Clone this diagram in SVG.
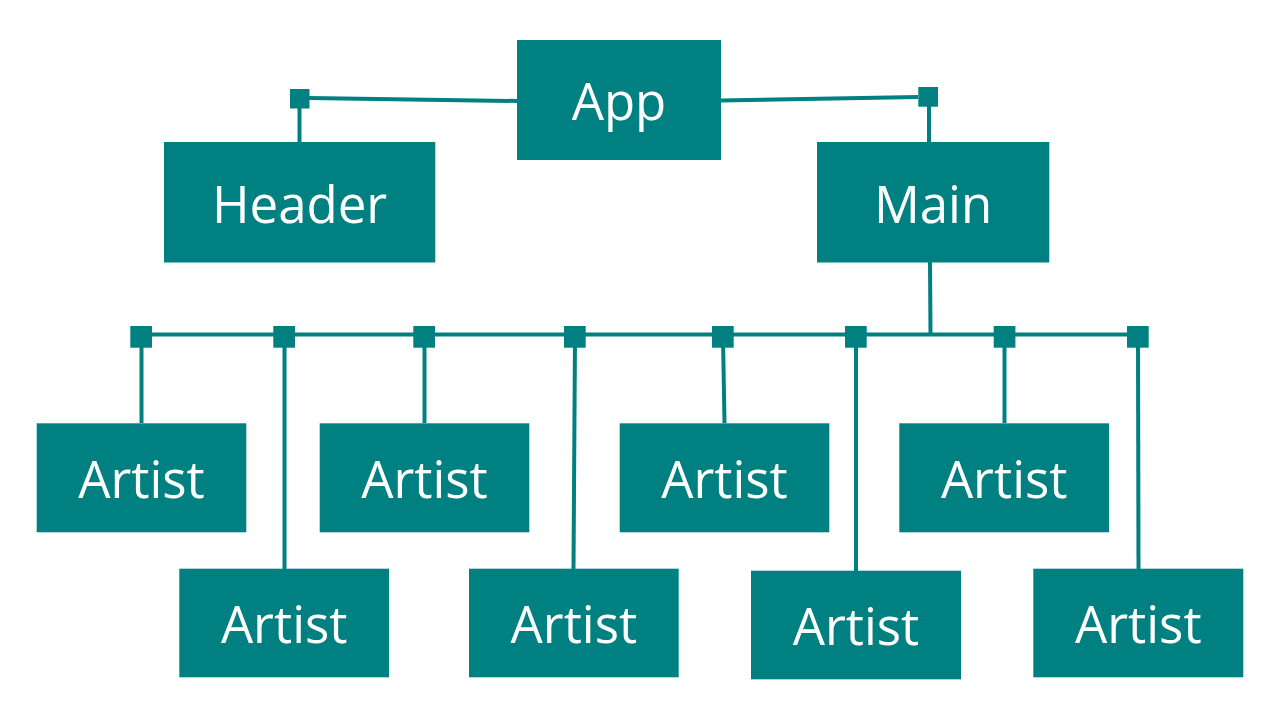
<svg xmlns="http://www.w3.org/2000/svg" width="1280" height="720" viewBox="0 0 1280 720">
<style>
.box{fill:#008080}
.lbl{fill:#ffffff;font-family:"Open Sans","Noto Sans","DejaVu Sans",sans-serif;font-size:51px;text-anchor:middle}
.ln{stroke:#008080;stroke-width:4;fill:none}
.j{fill:#008080}
</style>
<rect width="1280" height="720" fill="#ffffff"/>
<g id="connectors">
<path class="ln" d="M309 98 L517 101"/>
<path class="ln" d="M720 100.5 L918 97"/>
<path class="ln" d="M299.5 108 L299.5 142"/>
<path class="ln" d="M929 106 L929 142"/>
<path class="ln" d="M930 262 L930.5 334.5"/>
<path class="ln" d="M141 334.5 L1138 334.5"/>
<path class="ln" d="M141.5 337 L141.5 423"/>
<path class="ln" d="M284.5 337 L284.5 569"/>
<path class="ln" d="M424.5 337 L424.5 423"/>
<path class="ln" d="M575 337 L573.5 569"/>
<path class="ln" d="M723 337 L724.5 423"/>
<path class="ln" d="M856 337 L856 571"/>
<path class="ln" d="M1004.5 337 L1004.5 423"/>
<path class="ln" d="M1138 337 L1138.5 569"/>
<rect class="j" x="290" y="89" width="19.5" height="19.5"/>
<rect class="j" x="918.3" y="87" width="19.7" height="19.7"/>
<rect class="j" x="130.3" y="326" width="21.7" height="21.7"/>
<rect class="j" x="273.3" y="326" width="21.7" height="21.7"/>
<rect class="j" x="413.3" y="326" width="21.7" height="21.7"/>
<rect class="j" x="564" y="326" width="21.7" height="21.7"/>
<rect class="j" x="712" y="326" width="21.7" height="21.7"/>
<rect class="j" x="845" y="326" width="21.7" height="21.7"/>
<rect class="j" x="993.7" y="326" width="21.7" height="21.7"/>
<rect class="j" x="1127" y="326" width="21.7" height="21.7"/>
</g>
<g id="app"><rect class="box" x="517" y="40" width="204" height="120"/><text class="lbl" x="619" y="120">App</text></g>
<g id="header"><rect class="box" x="164" y="142" width="271.3" height="120.5"/><text class="lbl" x="299.6" y="222.5">Header</text></g>
<g id="main"><rect class="box" x="817" y="142" width="232.3" height="120.5"/><text class="lbl" x="933.1" y="222.5">Main</text></g>
<g id="artist1"><rect class="box" x="36.7" y="423.3" width="209.6" height="109"/><text class="lbl" x="141.5" y="497.8">Artist</text></g>
<g id="artist2"><rect class="box" x="179.3" y="568.7" width="209.7" height="108.6"/><text class="lbl" x="284.2" y="643">Artist</text></g>
<g id="artist3"><rect class="box" x="319.7" y="423.3" width="209.6" height="109"/><text class="lbl" x="424.5" y="497.8">Artist</text></g>
<g id="artist4"><rect class="box" x="469" y="568.7" width="209.7" height="108.6"/><text class="lbl" x="573.9" y="643">Artist</text></g>
<g id="artist5"><rect class="box" x="619.7" y="423.3" width="209.6" height="109"/><text class="lbl" x="724.5" y="497.8">Artist</text></g>
<g id="artist6"><rect class="box" x="751" y="570.7" width="210" height="108.6"/><text class="lbl" x="856" y="645">Artist</text></g>
<g id="artist7"><rect class="box" x="899.3" y="423.3" width="209.7" height="109"/><text class="lbl" x="1004.2" y="497.8">Artist</text></g>
<g id="artist8"><rect class="box" x="1033.3" y="568.7" width="210" height="108.6"/><text class="lbl" x="1138.3" y="643">Artist</text></g>
</svg>
